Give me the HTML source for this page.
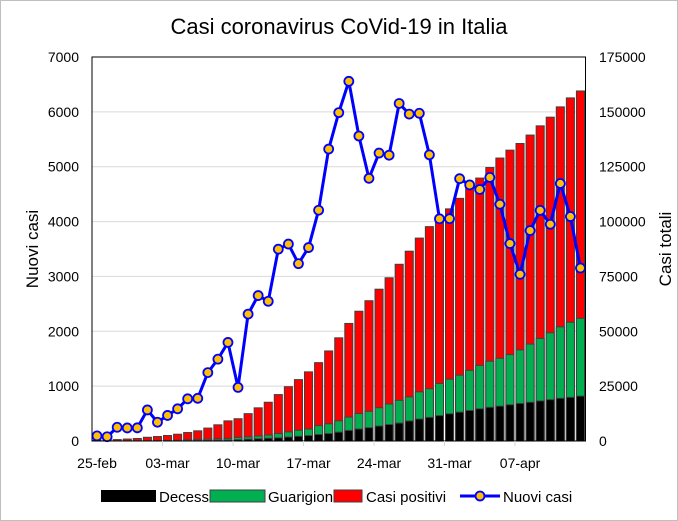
<!DOCTYPE html>
<html><head><meta charset="utf-8"><style>
html,body{margin:0;padding:0;background:#fff}
svg{display:block;font-family:"Liberation Sans",sans-serif}
</style></head><body>
<svg id="chart" width="678" height="521" viewBox="0 0 678 521">
<rect x="0.5" y="0.5" width="677" height="520" fill="#fff" stroke="#bfbfbf"/>
<text x="339" y="34" text-anchor="middle" font-size="22" fill="#000">Casi coronavirus CoVid-19 in Italia</text>
<g id="grid"></g><g id="bars"></g><g id="line"></g><g id="axes"></g>
<text transform="translate(38,249) rotate(-90)" text-anchor="middle" font-size="17">Nuovi casi</text>
<text transform="translate(671,249) rotate(-90)" text-anchor="middle" font-size="17">Casi totali</text>
<g font-size="15">
<rect x="101" y="490" width="55" height="12" fill="#000"/>
<text x="159" y="502">Decessi</text>
<rect x="210" y="490" width="55" height="12" fill="#00b050" stroke="#404040"/>
<text x="268" y="502">Guarigioni</text>
<rect x="334" y="490" width="28" height="12" fill="#ff0000" stroke="#404040"/>
<text x="366" y="502">Casi positivi</text>
<line x1="460" y1="496" x2="500" y2="496" stroke="#0000ff" stroke-width="3"/>
<circle cx="480" cy="496" r="4.5" fill="#ffc000" stroke="#0000ff" stroke-width="1.8"/>
<text x="503" y="502">Nuovi casi</text>
</g>
</svg>
<script>
const dates=["25-feb","26-feb","27-feb","28-feb","29-feb","01-mar","02-mar","03-mar","04-mar","05-mar","06-mar","07-mar","08-mar","09-mar","10-mar","11-mar","12-mar","13-mar","14-mar","15-mar","16-mar","17-mar","18-mar","19-mar","20-mar","21-mar","22-mar","23-mar","24-mar","25-mar","26-mar","27-mar","28-mar","29-mar","30-mar","31-mar","01-apr","02-apr","03-apr","04-apr","05-apr","06-apr","07-apr","08-apr","09-apr","10-apr","11-apr","12-apr","13-apr"];
const nuovi=[93,78,250,238,240,566,342,466,587,769,778,1247,1492,1797,977,2313,2651,2547,3497,3590,3233,3526,4207,5322,5986,6557,5560,4789,5249,5210,6153,5959,5974,5217,4050,4053,4782,4668,4585,4805,4316,3599,3039,3836,4204,3951,4694,4092,3153];
const totali=[322,400,650,888,1128,1694,2036,2502,3089,3858,4636,5883,7375,9172,10149,12462,15113,17660,21157,24747,27980,31506,35713,41035,47021,53578,59138,63927,69176,74386,80539,86498,92472,97689,101739,105792,110574,115242,119827,124632,128948,132547,135586,139422,143626,147577,152271,156363,159516];
const decessi=[10,12,17,21,29,34,52,79,107,148,197,233,366,463,631,827,1016,1266,1441,1809,2158,2503,2978,3405,4032,4825,5476,6077,6820,7503,8165,9134,10023,10779,11591,12428,13155,13915,14681,15362,15887,16523,17127,17669,18279,18849,19468,19899,20465];
const guariti=[1,3,45,46,50,83,149,160,276,414,523,589,622,724,1004,1045,1258,1439,1966,2335,2749,2941,4025,4440,5129,6072,7024,7432,8326,9362,10361,10950,12384,13030,14620,15729,16847,18278,19758,20996,21815,22837,24392,26491,28470,30455,32534,34211,35435];
const leftTicks=[0,1000,2000,3000,4000,5000,6000,7000];
const rightTicks=[0,25000,50000,75000,100000,125000,150000,175000];

const NS="http://www.w3.org/2000/svg";
const L=92,R=585.5,T=57,B=441;
const n=dates.length,step=(R-L)/n;
const xc=i=>L+(i+0.5)*step;
const yL=v=>B-(v/7000)*(B-T);
const yR=v=>B-(v/175000)*(B-T);
function mk(tag,parent,attrs){const e=document.createElementNS(NS,tag);for(const k in attrs)e.setAttribute(k,attrs[k]);parent.appendChild(e);return e;}
const grid=document.getElementById('grid'),bars=document.getElementById('bars'),line=document.getElementById('line'),axes=document.getElementById('axes');
leftTicks.forEach((v,i)=>{
  if(v>0&&v<7000){const g=mk('line',grid,{x1:L,x2:R,y1:yL(v),y2:yL(v),stroke:'#d9d9d9','stroke-width':1});
  
  }
  const t=mk('text',axes,{x:79,y:yL(v)+5,'text-anchor':'end','font-size':14});t.textContent=v;
  
  
});
rightTicks.forEach(v=>{
  const t=mk('text',axes,{x:599,y:yR(v)+5,'text-anchor':'start','font-size':14});t.textContent=v;
  
  
});
const bw=step*0.8;
for(let i=0;i<n;i++){
  const x=xc(i)-bw/2;
  const r=mk('rect',bars,{x:x,y:yR(totali[i]),width:bw,height:yR(0)-yR(totali[i]),fill:'#ff0000',stroke:'#404040','stroke-width':1});
  
  
  const g=mk('rect',bars,{x:x,y:yR(decessi[i]+guariti[i]),width:bw,height:yR(0)-yR(decessi[i]+guariti[i]),fill:'#00b050',stroke:'#404040','stroke-width':1});
  
  
  const d=mk('rect',bars,{x:x,y:yR(decessi[i]),width:bw,height:yR(0)-yR(decessi[i]),fill:'#000',stroke:'#404040','stroke-width':1});
  
  
}
const pts=nuovi.map((v,i)=>xc(i)+','+yL(v)).join(' ');
const pl=mk('polyline',line,{points:pts,fill:'none',stroke:'#0000ff','stroke-width':3,'stroke-linejoin':'round'});


nuovi.forEach((v,i)=>{
  const c=mk('circle',line,{cx:xc(i),cy:yL(v),r:4.5,fill:'#ffc000',stroke:'#0000ff','stroke-width':1.8});
  
  
});
const fr=mk('rect',axes,{x:L,y:T,width:R-L,height:B-T,fill:'none',stroke:'#000','stroke-width':1});


for(let i=0;i<n;i+=7){
  const bx=L+i*step;
  if(i>0){const tk=mk('line',axes,{x1:bx,x2:bx,y1:B,y2:B+5,stroke:'#d9d9d9'});
  
  }
  const t=mk('text',axes,{x:xc(i),y:468,'text-anchor':'middle','font-size':14});t.textContent=dates[i];
  
  
}
</script>
</body></html>
